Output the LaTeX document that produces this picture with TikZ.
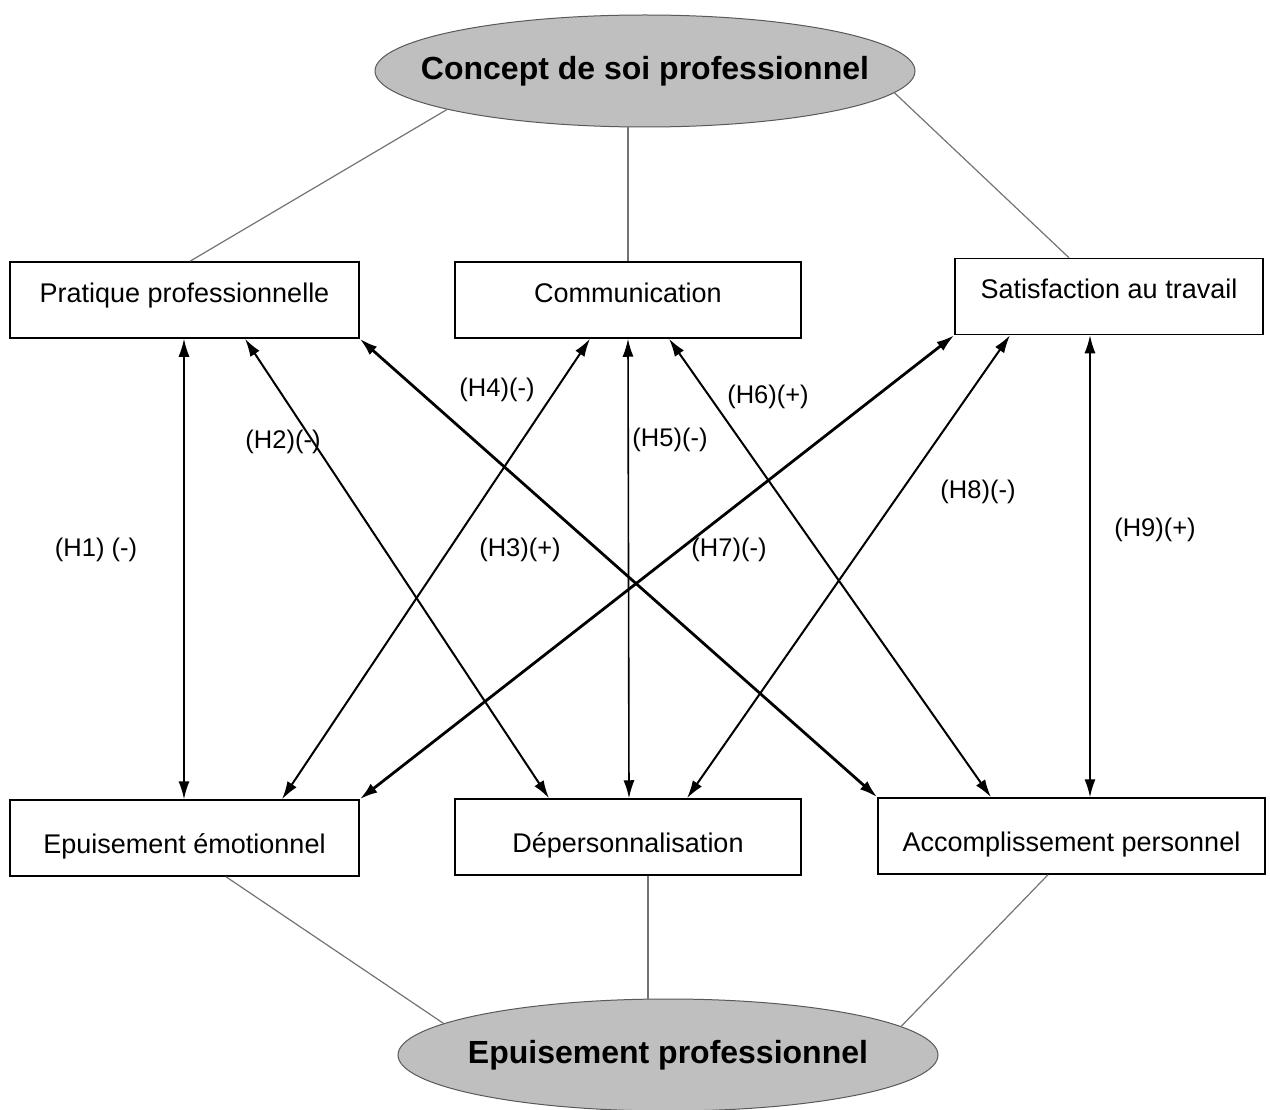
\documentclass[tikz,border=0pt]{standalone}
\usepackage{fontspec}
\setmainfont{Liberation Sans}
\usetikzlibrary{shapes.geometric,arrows.meta}

\begin{document}
\begin{tikzpicture}[x=1pt, y=-1pt,
    >={Latex[length=18pt,width=11pt]},
    box/.style={draw, line width=1.5pt, minimum height=76pt, inner sep=0pt,
      font=\fontsize{27}{31}\selectfont},
    upper/.style={box, text height=20pt, text depth=16pt},
    lower/.style={box, text height=36pt, text depth=6pt},
    latent/.style={ellipse, draw=black!65, line width=1pt, fill=black!25,
      inner sep=0pt, minimum width=540pt, minimum height=112pt},
    title/.style={inner sep=0pt, font=\bfseries\fontsize{32}{36}\selectfont},
    hyp/.style={inner sep=1pt, font=\fontsize{25.5}{30}\selectfont},
    link/.style={draw=black!55, line width=1.2pt},
    rel/.style={<->, line width=2pt}]

  \useasboundingbox (0,0) rectangle (1270,1110);

  % the two latent variables
  \node [latent] (concept) at (645,71) {};
  \node [title] (concepttxt) at (concept) {Concept de soi professionnel};
  \node [latent] (burnout) at (668,1055) {};
  \node [title] (burnouttxt) at (burnout) {Epuisement professionnel};

  % the six dimensions
  \node [upper, minimum width=349pt] (pratique) at (184.5,300) {Pratique professionnelle};
  \node [upper, minimum width=346pt] (commu) at (628,300) {Communication};
  \node [upper, minimum width=308pt] (satisf) at (1109,296.5) {Satisfaction au travail};
  \node [lower, minimum width=349pt] (epuis) at (184.5,838) {Epuisement émotionnel};
  \node [lower, minimum width=346pt] (deperso) at (628,837) {Dépersonnalisation};
  \node [lower, minimum width=387pt] (accompl) at (1071.5,836) {Accomplissement personnel};

  % links to the latent variables
  \draw [link] (concept.191.8) -- (pratique.north -| 190,0);
  \draw [link] (concept.south -| commu.north) -- (commu.north);
  \draw [link] (concept.355.1) -- (satisf.north -| 1069,0);
  \draw [link] (epuis.south -| 226,0) -- (burnout.172.7);
  \draw [link] (deperso.south -| 648,0) -- (burnout.north -| 648,0);
  \draw [link] (accompl.south -| 1048,0) -- (burnout.7.4);

  % hypotheses
  \draw [rel, line width=1.6pt] (pratique.south -| 184,0) -- (epuis.north -| 184,0);
  \draw [rel] (pratique.south -| 245,0) -- (deperso.north -| 549,0);
  \draw [rel] (commu.south -| 590,0) -- (epuis.north -| 282,0);
  \draw [rel, line width=2.8pt] (pratique.south east) -- (accompl.north west);
  \draw [rel, line width=1.6pt] (commu.south -| 628,0) -- (deperso.north -| 629,0);
  \draw [rel] (commu.south -| 669,0) -- (accompl.north -| 991,0);
  \draw [rel, line width=2.8pt] (satisf.south west) -- (epuis.north east);
  \draw [rel] (satisf.south -| 1010,0) -- (deperso.north -| 687,0);
  \draw [rel, line width=1.6pt] (satisf.south -| 1090,0) -- (accompl.north -| 1090,0);

  \node [hyp] (h1) at (96,550) {(H1) (-)};
  \node [hyp] (h2) at (283,442) {(H2)(-)};
  \node [hyp] (h3) at (520,550) {(H3)(+)};
  \node [hyp] (h4) at (497,390) {(H4)(-)};
  \node [hyp] (h5) at (670,440) {(H5)(-)};
  \node [hyp] (h6) at (768,397) {(H6)(+)};
  \node [hyp] (h7) at (729,550) {(H7)(-)};
  \node [hyp] (h8) at (978,492) {(H8)(-)};
  \node [hyp] (h9) at (1155,530) {(H9)(+)};
\end{tikzpicture}
\end{document}
